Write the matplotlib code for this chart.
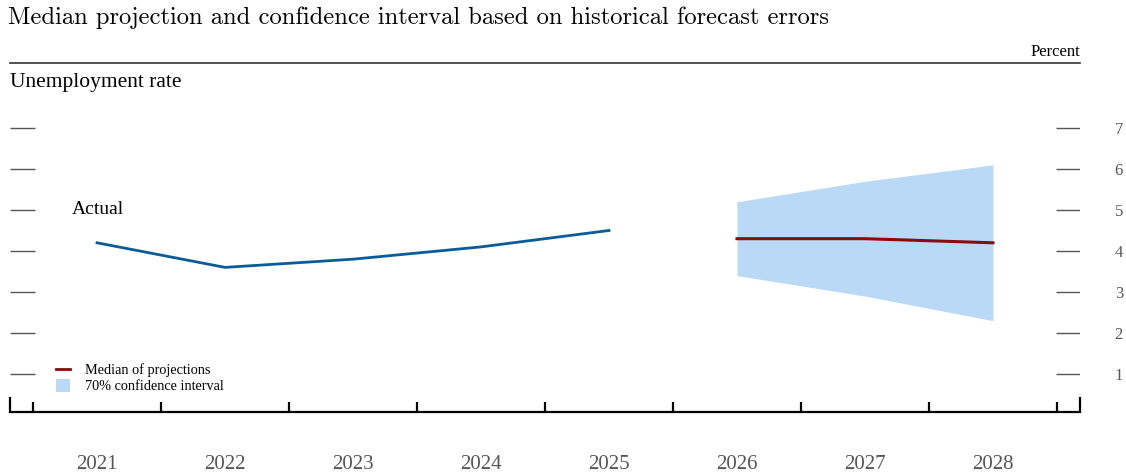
import matplotlib
matplotlib.use("Agg")
import matplotlib.pyplot as plt
from matplotlib.lines import Line2D
from matplotlib.patches import Patch

years_actual = [2021, 2022, 2023, 2024, 2025]
actual = [4.2, 3.6, 3.8, 4.1, 4.5]
years_proj = [2026, 2027, 2028]
median = [4.3, 4.3, 4.2]
ci_low = [3.4, 2.9, 2.3]
ci_high = [5.2, 5.7, 6.1]
all_years = [2021, 2022, 2023, 2024, 2025, 2026, 2027, 2028]
y_ticks = [1, 2, 3, 4, 5, 6, 7]

W, H = 1126, 476
fig = plt.figure(figsize=(W / 100, H / 100), dpi=100)
ax = fig.add_axes([10 / W, (H - 412) / H, 1070 / W, (412 - 63) / H])

serif = ["Liberation Serif", "DejaVu Serif"]

ax.fill_between(years_proj, ci_low, ci_high, color="#bad9f6", linewidth=0)
ax.plot(years_actual, actual, color="#0a5c99", linewidth=2)
ax.plot(years_proj, median, color="#8b0a0a", linewidth=2.2)

for s in ["top", "left", "right"]:
    ax.spines[s].set_visible(False)
ax.spines["bottom"].set_linewidth(1.6)
ax.spines["bottom"].set_color("black")

# x ticks: labels at year centers, marks at boundaries
ax.set_xticks(all_years)
ax.set_xticklabels([str(y) for y in all_years], family=serif, fontsize=15, color="#555555")
ax.tick_params(axis="x", which="major", length=0, pad=31)
ax.set_xticks([y + 0.5 for y in [2020] + all_years], minor=True)
ax.tick_params(axis="x", which="minor", direction="in", length=7, width=1.6, color="black")

XMIN, XMAX = 2020.32, 2028.68
ax.set_xlim(XMIN, XMAX)
ax.set_ylim(0.073, 8.585)

# end brackets
xt = ax.get_xaxis_transform()
ax.plot([XMIN, XMIN], [0, 15 / 349], transform=xt, color="black", lw=1.6, clip_on=False, solid_capstyle="butt")
ax.plot([XMAX, XMAX], [0, 15 / 349], transform=xt, color="black", lw=1.6, clip_on=False, solid_capstyle="butt")

# y ticks on right
ax.yaxis.tick_right()
ax.set_yticks(y_ticks)
ax.set_yticklabels([str(v) for v in y_ticks], family=serif, fontsize=12, color="#555555")
ax.tick_params(axis="y", length=0, pad=25)
ax.set_ylim(0.073, 8.585)

yt = ax.get_yaxis_transform()
ax.hlines(y_ticks, 0, 25 / 1070, transform=yt, color="#555555", lw=1)
ax.hlines(y_ticks, 1046 / 1070, 1.0, transform=yt, color="#555555", lw=1)

ax.text(2020.8, 5.0, "Actual", family=serif, fontsize=14, ha="left", va="center")

handles = [Line2D([0], [0], color="#8b0a0a", lw=2),
           Patch(facecolor="#bad9f6", edgecolor="none")]
leg = ax.legend(handles, ["Median of projections", "70% confidence interval"],
                loc="lower left", bbox_to_anchor=(46 / 1070, 19 / 349), frameon=False,
                prop={"family": serif, "size": 10.3}, handlelength=1.0, handleheight=1.0,
                handletextpad=1.0, labelspacing=0.1, borderpad=0, borderaxespad=0)

fig.text(8 / W, 1 - 18 / H, "Median projection and confidence interval based on historical forecast errors",
         family=["cmr10", "DejaVu Serif"], fontsize=17.7, ha="left", va="center")
fig.text(1080 / W, 1 - 52 / H, "Percent", family=serif, fontsize=12, ha="right", va="center")
fig.add_artist(Line2D([10 / W, 1080 / W], [1 - 63 / H, 1 - 63 / H], color="#333333", lw=1.2))
fig.text(10 / W, 1 - 83 / H, "Unemployment rate", family=serif, fontsize=15.5, ha="left", va="center")

fig.savefig("out.png", dpi=100)
